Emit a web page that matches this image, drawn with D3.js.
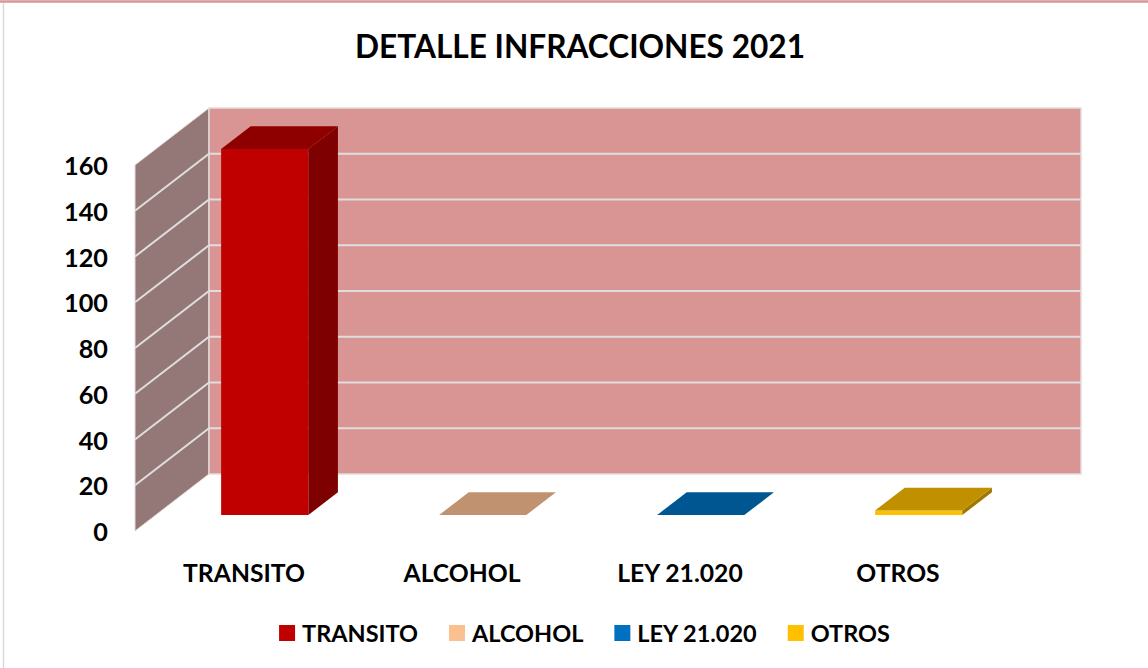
<!DOCTYPE html>
<html>
<head>
<meta charset="utf-8">
<script src="https://cdn.jsdelivr.net/npm/d3@7/dist/d3.min.js"></script>
<style>
  html, body { margin: 0; padding: 0; background: #fff; }
  svg { display: block; }
  text { font-family: Lato, "Open Sans", sans-serif; font-weight: 700; fill: #000; }
</style>
</head>
<body>
<svg id="chart" width="1148" height="668"></svg>
<script>
// ---- data ----
const title = "DETALLE INFRACCIONES 2021";
const categories = ["TRANSITO", "ALCOHOL", "LEY 21.020", "OTROS"];
const values = [160, 0, 0, 2];
const yTicks = [0, 20, 40, 60, 80, 100, 120, 140, 160];

// ---- styles ----
const frontColors = ["#C00000", "#FAC090", "#0070C0", "#FFC000"];
const topColors   = ["#8E0000", "#C0926F", "#005690", "#C09000"];
const sideColors  = ["#7F0000", "#A67B5B", "#004A7A", "#A07800"];
const legendColors = ["#C00000", "#FAC090", "#0070C0", "#FFC000"];

const svg = d3.select("#chart");

// chart area border
svg.append("line").attr("x1", 0).attr("x2", 1148).attr("y1", 1.5).attr("y2", 1.5)
  .attr("stroke", "#D99594").attr("stroke-width", 2.5);
svg.append("line").attr("x1", 3.5).attr("x2", 3.5).attr("y1", 3).attr("y2", 668)
  .attr("stroke", "#D9D9D9").attr("stroke-width", 1.5);

// ---- 3D geometry ----
const X0 = 135, W = 872;          // floor front edge
const DX = 74, DY = -57;          // depth vector
const x = d3.scaleBand().domain(categories).range([X0, X0 + W]).paddingInner(0.6).paddingOuter(0.3);
const y = d3.scaleLinear().domain([0, 160]).range([531, 165]);
const P = (px, v, d) => [px + d * DX, y(v) + d * DY];
const poly = pts => pts.map(p => p.join(",")).join(" ");

// walls
svg.append("polygon")
  .attr("points", poly([P(X0, 0, 0), P(X0, 160, 0), P(X0, 160, 1), P(X0, 0, 1)]))
  .attr("fill", "#947878").attr("stroke", "#E2DADA").attr("stroke-width", 1);
svg.append("polygon")
  .attr("points", poly([P(X0, 0, 1), P(X0, 160, 1), P(X0 + W, 160, 1), P(X0 + W, 0, 1)]))
  .attr("fill", "#D99594").attr("stroke", "#E6DCDC").attr("stroke-width", 1.5);

// gridlines
const gl = svg.append("g");
yTicks.filter(t => t > 0 && t < 160).forEach(t => {
  gl.append("polyline")
    .attr("points", poly([P(X0, t, 0), P(X0, t, 1), P(X0 + W, t, 1)]))
    .attr("fill", "none").attr("stroke", "#DEDEDE").attr("stroke-width", 2);
});

// bars
const D0 = 0.28, D1 = 0.68;
const bars = svg.append("g");
categories.forEach((c, i) => {
  const v = values[i];
  const xl = x(c), xr = x(c) + x.bandwidth();
  const g = bars.append("g");
  // front
  g.append("polygon").attr("points", poly([P(xl, 0, D0), P(xl, v, D0), P(xr, v, D0), P(xr, 0, D0)]))
    .attr("fill", frontColors[i]);
  // side
  g.append("polygon").attr("points", poly([P(xr, 0, D0), P(xr, v, D0), P(xr, v, D1), P(xr, 0, D1)]))
    .attr("fill", sideColors[i]);
  // top
  g.append("polygon").attr("points", poly([P(xl, v, D0), P(xl, v, D1), P(xr, v, D1), P(xr, v, D0)]))
    .attr("fill", topColors[i]);
});

// helper to fit font size to a target width
function fitSize(sample, target, base) {
  const t = svg.append("text").attr("font-size", base).text(sample);
  const w = t.node().getComputedTextLength();
  t.remove();
  return base * target / w;
}

// y-axis tick labels
const tickSize = fitSize("160", 44, 24);
svg.append("g").selectAll("text").data(yTicks).join("text")
  .attr("x", 108).attr("y", d => y(d))
  .attr("text-anchor", "end").attr("dominant-baseline", "central")
  .attr("font-size", tickSize).text(d => d);

// category labels
const catSize = fitSize("TRANSITO", 122, 24);
svg.append("g").selectAll("text").data(categories).join("text")
  .attr("x", d => x(d) + x.bandwidth() / 2).attr("y", 572)
  .attr("text-anchor", "middle").attr("dominant-baseline", "central")
  .attr("font-size", catSize).text(d => d);

// title
const titleSize = fitSize(title, 450, 30);
svg.append("text").attr("x", 580).attr("y", 46)
  .attr("text-anchor", "middle").attr("dominant-baseline", "central")
  .attr("font-size", titleSize).text(title);

// legend
const legSize = fitSize("TRANSITO", 116, 22);
const leg = svg.append("g");
let cx = 0;
const items = [];
categories.forEach((c, i) => {
  const it = leg.append("g").attr("transform", `translate(${cx},0)`);
  it.append("rect").attr("x", 0).attr("y", -8).attr("width", 16).attr("height", 16).attr("fill", legendColors[i]);
  const t = it.append("text").attr("x", 23).attr("y", 0).attr("dominant-baseline", "central")
    .attr("font-size", legSize).text(c);
  const w = t.node().getComputedTextLength();
  cx += 23 + w + 31;
});
const totalW = cx - 31;
leg.attr("transform", `translate(${584.5 - totalW / 2},633)`);
</script>
</body>
</html>
